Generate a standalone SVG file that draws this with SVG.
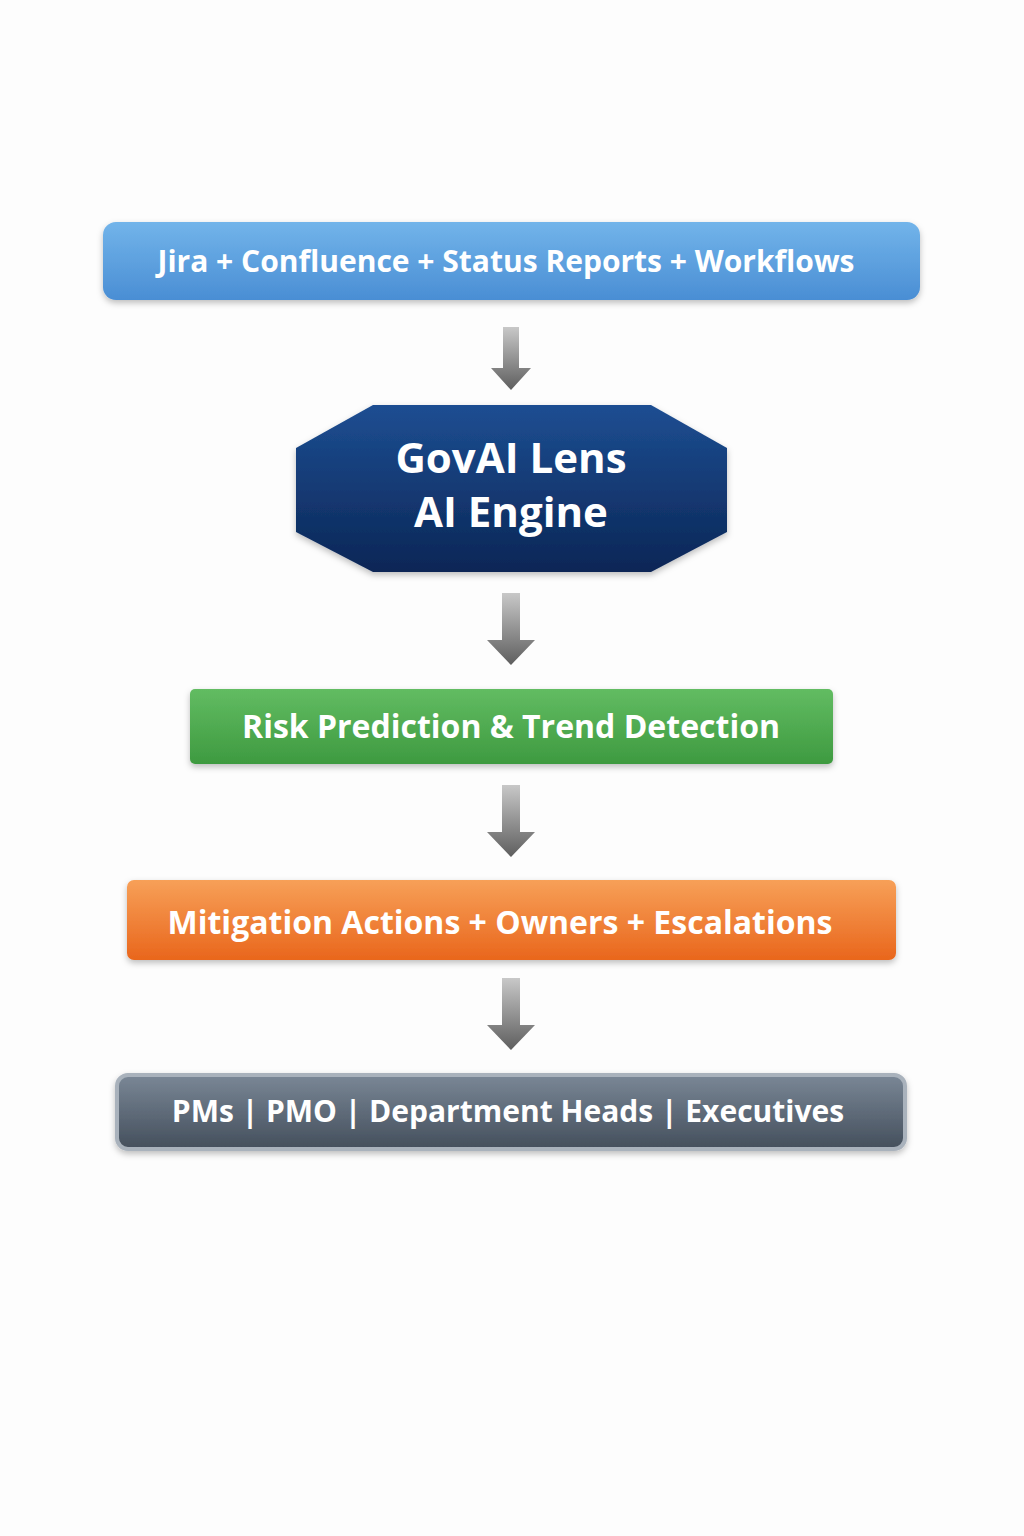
<svg xmlns="http://www.w3.org/2000/svg" width="1024" height="1536" viewBox="0 0 1024 1536">
<defs>
<linearGradient id="gb" x1="0" y1="0" x2="0" y2="1"><stop offset="0" stop-color="#72b4ea"/><stop offset="1" stop-color="#4a8ed4"/></linearGradient>
<linearGradient id="gn" x1="0" y1="0" x2="0" y2="1"><stop offset="0" stop-color="#1d4e92"/><stop offset="1" stop-color="#0b2656"/></linearGradient>
<linearGradient id="gg" x1="0" y1="0" x2="0" y2="1"><stop offset="0" stop-color="#62bc62"/><stop offset="1" stop-color="#3e9a40"/></linearGradient>
<linearGradient id="go" x1="0" y1="0" x2="0" y2="1"><stop offset="0" stop-color="#f7a058"/><stop offset="1" stop-color="#e9661c"/></linearGradient>
<linearGradient id="gs" x1="0" y1="0" x2="0" y2="1"><stop offset="0" stop-color="#7a8796"/><stop offset="1" stop-color="#444f5c"/></linearGradient>
<linearGradient id="ga" x1="0" y1="0" x2="0" y2="1"><stop offset="0" stop-color="#c8c8c8"/><stop offset="1" stop-color="#5e5e5e"/></linearGradient>
<filter id="sh" x="-5%" y="-20%" width="110%" height="150%"><feDropShadow dx="0" dy="3" stdDeviation="3" flood-opacity="0.25"/></filter>
</defs>
<style>
text{font-family:"Open Sans","Liberation Sans",sans-serif;font-weight:bold;fill:#fff;text-anchor:middle}
.arr{fill:url(#ga)}
</style>
<rect width="1024" height="1536" fill="#fdfdfd"/>
<g id="sources"><rect x="103" y="222" width="817" height="78" rx="13" fill="url(#gb)" filter="url(#sh)"/><text x="506" y="272" font-size="30">Jira + Confluence + Status Reports + Workflows</text></g>
<g id="engine"><polygon points="373,405 651,405 727,448 727,532 651,572 373,572 296,532 296,448" fill="url(#gn)" filter="url(#sh)"/><text x="511" y="473" font-size="42">GovAI Lens</text><text x="511" y="527" font-size="42">AI Engine</text></g>
<g id="risk"><rect x="190" y="689" width="643" height="75" rx="5" fill="url(#gg)" filter="url(#sh)"/><text x="511" y="738" font-size="32">Risk Prediction &amp; Trend Detection</text></g>
<g id="mitigation"><rect x="127" y="880" width="769" height="80" rx="7" fill="url(#go)" filter="url(#sh)"/><text x="500" y="934" font-size="32">Mitigation Actions + Owners  + Escalations</text></g>
<g id="audience"><rect x="117" y="1075" width="788" height="74" rx="11" fill="url(#gs)" stroke="#a9b2bc" stroke-width="4" filter="url(#sh)"/><text x="508" y="1122" font-size="30">PMs | PMO | Department Heads | Executives</text></g>
<g id="connectors">
<path class="arr" d="M503,327 H519 V368 H531 L511,390 L491,368 H503 Z"/>
<path class="arr" d="M502,593 H520 V640 H535 L511,665 L487,640 H502 Z"/>
<path class="arr" d="M502,785 H520 V832 H535 L511,857 L487,832 H502 Z"/>
<path class="arr" d="M502,978 H520 V1025 H535 L511,1050 L487,1025 H502 Z"/>
</g>
</svg>
